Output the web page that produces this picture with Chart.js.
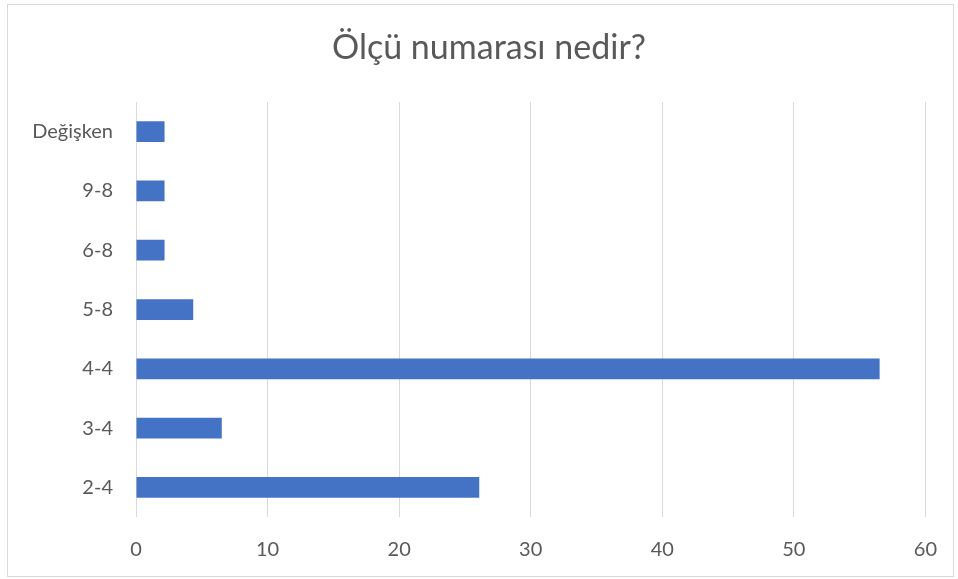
<!DOCTYPE html>
<html>
<head>
<meta charset="utf-8">
<script src="https://cdn.jsdelivr.net/npm/chart.js@4"></script>
<style>
  html, body { margin: 0; padding: 0; background: #ffffff; }
  #wrap { width: 958px; height: 579px; position: relative; }
</style>
</head>
<body>
<div id="wrap"><canvas id="c" width="958" height="579"></canvas></div>
<script>
const categories = ['Değişken', '9-8', '6-8', '5-8', '4-4', '3-4', '2-4'];
const values = [2.17, 2.17, 2.17, 4.35, 56.52, 6.52, 26.09];
const xTicks = [0, 10, 20, 30, 40, 50, 60];
const titleText = 'Ölçü numarası nedir?';

const FONT = 'Lato, "Open Sans", sans-serif';
const TEXT = '#595959';

const framePlugin = {
  id: 'frame',
  beforeDraw(chart) {
    const ctx = chart.ctx;
    ctx.save();
    ctx.fillStyle = '#ffffff';
    ctx.fillRect(0, 0, chart.width, chart.height);
    ctx.strokeStyle = '#d9d9d9';
    ctx.lineWidth = 1;
    ctx.strokeRect(7.5, 4.5, 946, 572);
    ctx.restore();
  },
  afterDraw(chart) {
    const ctx = chart.ctx;
    ctx.save();
    ctx.fillStyle = TEXT;
    ctx.font = '34px ' + FONT;
    ctx.textAlign = 'center';
    ctx.textBaseline = 'middle';
    ctx.fillText(titleText, 489, 48);
    ctx.restore();
  }
};

new Chart(document.getElementById('c'), {
  type: 'bar',
  data: {
    labels: categories,
    datasets: [{
      data: values,
      backgroundColor: '#4472C4',
      borderWidth: 0,
      categoryPercentage: 1.0,
      barPercentage: 0.35
    }]
  },
  options: {
    indexAxis: 'y',
    responsive: false,
    animation: false,
    devicePixelRatio: 1,
    layout: { padding: { left: 0, right: 32, top: 102, bottom: 0 } },
    plugins: {
      legend: { display: false },
      tooltip: { enabled: false },
      title: { display: false }
    },
    scales: {
      x: {
        type: 'linear',
        min: 0,
        max: 60,
        afterBuildTicks(scale) { scale.ticks = xTicks.map(v => ({ value: v })); },
        afterFit(scale) { scale.height = 62; },
        grid: { color: '#d9d9d9', lineWidth: 1, drawTicks: false },
        border: { display: false },
        ticks: { color: TEXT, font: { family: FONT, size: 20 }, padding: 21 }
      },
      y: {
        afterFit(scale) { scale.width = 136; },
        grid: { display: false, drawTicks: false },
        border: { display: false },
        ticks: { color: TEXT, font: { family: FONT, size: 20 }, padding: 23 }
      }
    }
  },
  plugins: [framePlugin]
});
</script>
</body>
</html>
